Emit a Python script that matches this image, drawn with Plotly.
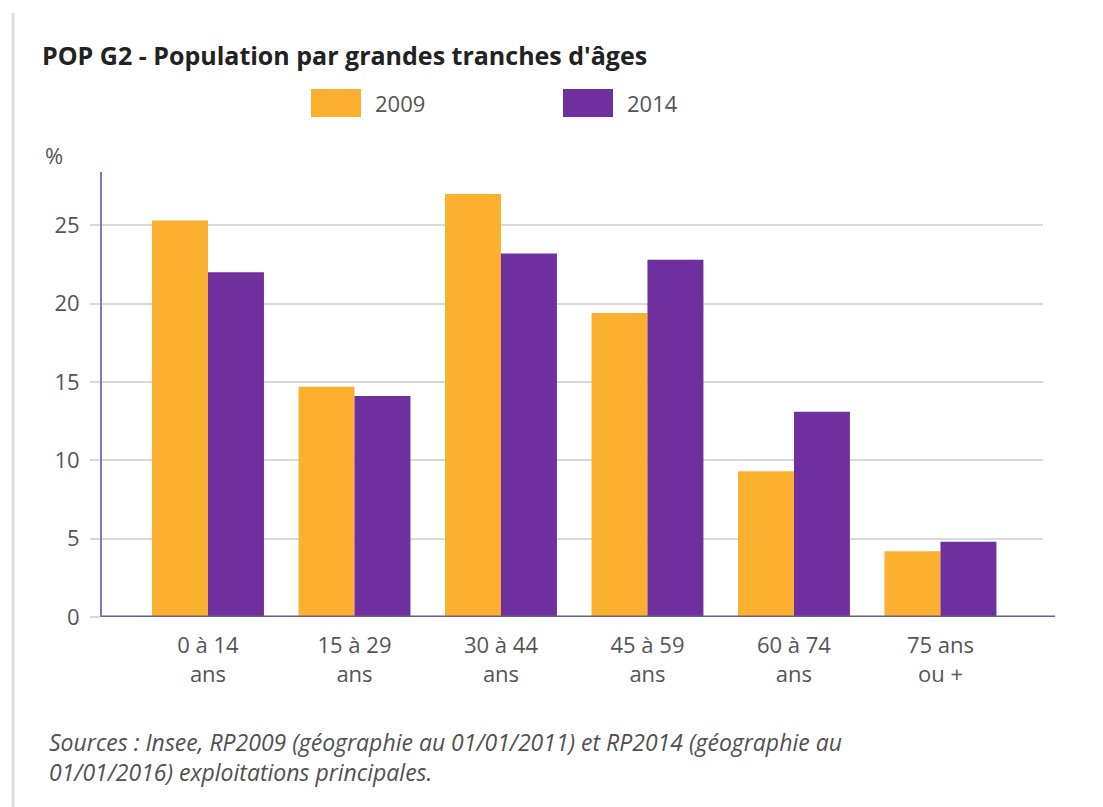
import plotly.graph_objects as go

# Age groups and shares of population (%) for the two census years
categories = ["0 à 14<br>ans", "15 à 29<br>ans", "30 à 44<br>ans",
              "45 à 59<br>ans", "60 à 74<br>ans", "75 ans<br>ou +"]
years = ["2009", "2014"]
pct_2009 = [25.3, 14.7, 27.0, 19.4, 9.3, 4.2]
pct_2014 = [22.0, 14.1, 23.2, 22.8, 13.1, 4.8]
y_ticks = [0, 5, 10, 15, 20, 25]

ORANGE = "#FCB030"
PURPLE = "#702F9F"
FONT = "Open Sans"
TEXT = "#555555"
LABEL_SIZE = 22

W, H = 1103, 807
ML, MR, MT, MB = 102, 60, 172, 190
PW = W - ML - MR
PH = H - MT - MB


def px(x):
    """Horizontal pixel position -> paper coordinate."""
    return (x - ML) / PW


def py(y):
    """Vertical pixel position (from top) -> paper coordinate."""
    return (H - MB - y) / PH


x_idx = list(range(len(categories)))

fig = go.Figure()
fig.add_trace(go.Bar(x=x_idx, y=pct_2009, name=years[0],
                     marker=dict(color=ORANGE, line=dict(width=0))))
fig.add_trace(go.Bar(x=x_idx, y=pct_2014, name=years[1],
                     marker=dict(color=PURPLE, line=dict(width=0))))

shapes = []
annotations = []

# page frame line on the left
shapes.append(dict(type="line", xref="paper", yref="paper",
                   x0=px(13), x1=px(13), y0=py(13), y1=py(H),
                   line=dict(color="#dedede", width=3)))

# baseline (x axis), slightly longer than the grid
shapes.append(dict(type="line", xref="paper", yref="y",
                   x0=0, x1=px(1055), y0=0, y1=0,
                   line=dict(color="#67637e", width=3)))

# legend swatches and labels
legend_items = [(years[0], ORANGE, 311), (years[1], PURPLE, 563)]
for label, color, x0 in legend_items:
    shapes.append(dict(type="rect", xref="paper", yref="paper",
                       x0=px(x0), x1=px(x0 + 50), y0=py(89), y1=py(117),
                       fillcolor=color, line=dict(width=0)))
    annotations.append(dict(text=label, xref="paper", yref="paper",
                            x=px(x0 + 62), y=py(103), xanchor="left",
                            yanchor="middle", showarrow=False,
                            font=dict(family=FONT, size=LABEL_SIZE, color=TEXT)))

# unit label above the value axis
annotations.append(dict(text="%", xref="paper", yref="paper",
                        x=px(43), y=py(155), xanchor="left", yanchor="middle",
                        showarrow=False,
                        font=dict(family=FONT, size=LABEL_SIZE, color=TEXT)))

# source note
annotations.append(dict(
    text="<i>Sources : Insee, RP2009 (géographie au 01/01/2011) et RP2014 "
         "(géographie au<br>01/01/2016) exploitations principales.</i>",
    xref="paper", yref="paper", x=px(47), y=py(757),
    xanchor="left", yanchor="middle", align="left", showarrow=False,
    font=dict(family=FONT, size=23, color="#505050")))

fig.update_layout(
    width=W, height=H,
    margin=dict(l=ML, r=MR, t=MT, b=MB, pad=0),
    paper_bgcolor="white", plot_bgcolor="white",
    barmode="group", bargap=0.236, bargroupgap=0,
    showlegend=False,
    title=dict(text="<b>POP G2 - Population par grandes tranches d'âges</b>",
               x=42 / W, xref="container", xanchor="left",
               y=1 - 56 / H, yref="container", yanchor="middle",
               font=dict(family=FONT, size=25, color="#222222")),
    shapes=shapes,
    annotations=annotations,
    xaxis=dict(range=[-0.7235, 5.70], tickmode="array", tickvals=x_idx,
               ticktext=categories, showgrid=False, zeroline=False,
               showline=False, ticks="outside", ticklen=9,
               tickcolor="rgba(0,0,0,0)",
               tickfont=dict(family=FONT, size=LABEL_SIZE, color=TEXT)),
    yaxis=dict(range=[0, 28.4], tickmode="array", tickvals=y_ticks,
               showgrid=True, gridcolor="#d9d9d9", gridwidth=2,
               zeroline=False, showline=True, linecolor="#7d78c2",
               linewidth=2, ticks="outside", ticklen=10,
               tickcolor="#d9d9d9", tickwidth=2, ticklabelstandoff=6,
               tickfont=dict(family=FONT, size=LABEL_SIZE, color=TEXT)),
)

fig.write_html("out.html")
